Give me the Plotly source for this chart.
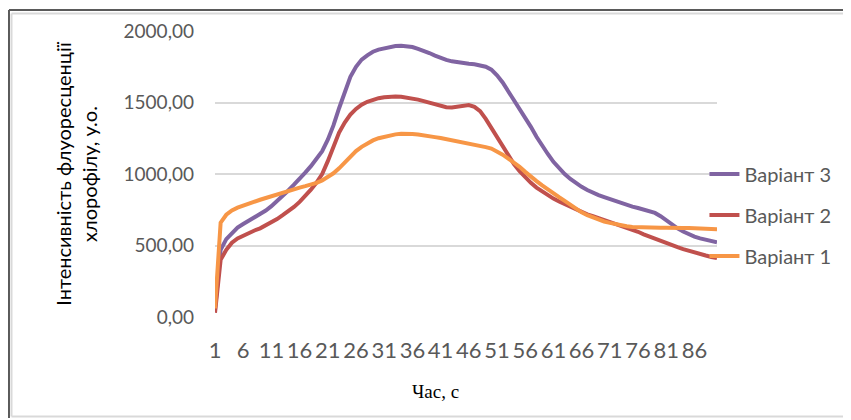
import plotly.graph_objects as go

# time points, seconds
time_s = list(range(1, 91))

# chlorophyll fluorescence intensity, relative units
variant_1 = [60, 660, 715, 745, 765, 780, 795, 808, 820, 832,
             845, 858, 870, 882, 893, 905, 915, 925, 938, 955,
             978, 1005, 1040, 1080, 1120, 1160, 1190, 1215, 1235, 1250,
             1260, 1270, 1277, 1282, 1284, 1280, 1276, 1272, 1266, 1258,
             1252, 1244, 1236, 1230, 1224, 1218, 1210, 1198, 1188, 1178,
             1160, 1135, 1108, 1080, 1050, 1015, 980, 950, 920, 890,
             862, 838, 812, 785, 755, 732, 712, 695, 680, 668,
             658, 648, 640, 635, 630, 628, 626, 625, 625, 624,
             625, 626, 625, 623, 622, 620, 618, 617, 615, 613]

variant_2 = [30, 400, 470, 520, 550, 570, 590, 605, 620, 640,
             660, 685, 712, 740, 770, 805, 845, 890, 940, 1000,
             1090, 1190, 1290, 1360, 1415, 1455, 1485, 1505, 1520, 1530,
             1537, 1541, 1542, 1540, 1535, 1528, 1520, 1510, 1498, 1486,
             1475, 1467, 1465, 1470, 1480, 1482, 1470, 1440, 1385, 1320,
             1255, 1190, 1125, 1070, 1020, 975, 938, 905, 878, 852,
             828, 808, 790, 770, 748, 730, 718, 705, 692, 680,
             668, 655, 642, 628, 612, 596, 578, 562, 545, 530,
             515, 500, 488, 475, 462, 450, 440, 430, 420, 412]

variant_3 = [50, 470, 545, 590, 625, 650, 672, 695, 718, 745,
             775, 810, 845, 885, 925, 965, 1010, 1055, 1105, 1160,
             1240, 1340, 1460, 1580, 1680, 1750, 1800, 1830, 1855, 1870,
             1880, 1888, 1895, 1897, 1895, 1888, 1875, 1862, 1846, 1828,
             1810, 1798, 1788, 1780, 1776, 1771, 1768, 1762, 1750, 1730,
             1690, 1640, 1580, 1520, 1460, 1390, 1330, 1260, 1195, 1140,
             1085, 1040, 1000, 965, 935, 910, 888, 868, 852, 838,
             824, 810, 797, 784, 772, 762, 752, 742, 728, 705,
             675, 645, 620, 598, 578, 562, 550, 540, 530, 522]

x_ticks = list(range(1, 90, 5))
y_ticks = [0, 500, 1000, 1500, 2000]

# variant 1 is drawn last so it sits on top, as in the original
series = [
    ('Варіант 3', variant_3, '#8064A2'),
    ('Варіант 2', variant_2, '#C0504D'),
    ('Варіант 1', variant_1, '#F79646'),
]

fig = go.Figure()
for name, values, color in series:
    fig.add_trace(go.Scatter(
        x=time_s, y=values,
        mode='lines',
        name=name,
        legendgroup=name,
        line=dict(color=color, width=4),
    ))

# page body has an 8px margin, so the figure is a bit smaller than the window
fig.update_layout(
    width=843, height=412,
    margin=dict(l=207, r=134, t=23, b=103),
    paper_bgcolor='white',
    plot_bgcolor='white',
    separators=', ',
    font=dict(family='Lato', size=19, color='#595959'),
    xaxis=dict(
        range=[1, 90],
        tickmode='array',
        tickvals=x_ticks,
        ticktext=[str(t) for t in x_ticks],
        tickangle=0,
        tickfont=dict(family='Lato', size=22, color='#595959'),
        showgrid=False,
        zeroline=False,
        ticks='',
        ticklabelstandoff=18,
    ),
    yaxis=dict(
        range=[0, 2000],
        tickvals=y_ticks,
        tickformat='.2f',
        tickfont=dict(family='Lato', size=19, color='#595959'),
        showgrid=True,
        gridcolor='#d9d9d9',
        gridwidth=1.5,
        zeroline=False,
        ticks='',
        ticklabelstandoff=20,
        title=dict(
            text='Інтенсивність флуоресценції<br>хлорофілу, у.о.',
            font=dict(family='Lato', size=20, color='#000000'),
            standoff=20,
        ),
    ),
    legend=dict(
        x=0.975, xanchor='left',
        y=0.357, yanchor='middle',
        traceorder='grouped',
        tracegroupgap=12,
        bgcolor='rgba(0,0,0,0)',
        font=dict(family='Lato', size=20, color='#595959'),
    ),
    annotations=[dict(
        text='Час, с',
        xref='paper', yref='paper',
        x=0.44, y=-0.262,
        xanchor='center', yanchor='middle',
        showarrow=False,
        font=dict(family='Liberation Serif', size=19, color='#000000'),
    )],
)

# outer frame of the chart
frame_dark = dict(color='#5a5a5a', width=2)
frame_light = dict(color='#d9d9d9', width=2)
fig.add_shape(type='line', xref='paper', yref='paper',
              x0=-0.4104, x1=1.27, y0=1.0734, y1=1.0734, line=frame_dark)
fig.add_shape(type='line', xref='paper', yref='paper',
              x0=-0.4104, x1=-0.4104, y0=1.0734, y1=-0.353, line=frame_dark)
fig.add_shape(type='line', xref='paper', yref='paper',
              x0=-0.4054, x1=1.27, y0=1.0612, y1=1.0612, line=frame_light)
fig.add_shape(type='line', xref='paper', yref='paper',
              x0=-0.4054, x1=-0.4054, y0=1.0612, y1=-0.3479, line=frame_light)
fig.add_shape(type='line', xref='paper', yref='paper',
              x0=-0.4054, x1=1.27, y0=-0.3479, y1=-0.3479, line=frame_light)

fig.write_html("out.html")
